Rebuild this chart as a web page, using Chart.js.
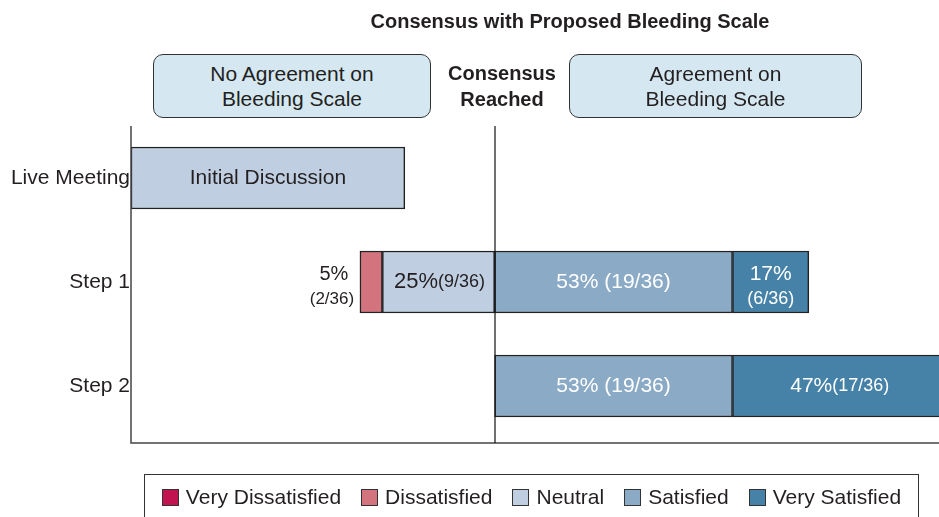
<!DOCTYPE html>
<html>
<head>
<meta charset="utf-8">
<script src="https://cdn.jsdelivr.net/npm/chart.js@4.4.1/dist/chart.umd.min.js"></script>
<style>
    html, body { margin: 0; padding: 0; background: #fff; }
    body { width: 939px; height: 517px; position: relative; overflow: hidden; font-family: "Liberation Sans", Arial, sans-serif; color: #231f20; }
    #chartWrap { position: absolute; left: 0; top: 0; width: 939px; height: 517px; }
    .title { position: absolute; left: 270px; width: 600px; top: 8px; line-height: 26px; text-align: center; font-weight: bold; font-size: 20px; }
    .box { position: absolute; top: 54px; height: 64px; border: 1.5px solid #333; border-radius: 10px; background: #d5e8f2; text-align: center; font-size: 21px; line-height: 25px; box-sizing: border-box; padding-top: 6px; }
    .reached { position: absolute; left: 440px; width: 124px; top: 60px; text-align: center; font-weight: bold; font-size: 20px; line-height: 26px; }
    .legend { position: absolute; left: 144px; top: 474px; width: 775px; height: 48px; border: 1.5px solid #333; box-sizing: border-box; display: flex; justify-content: center; align-items: center; font-size: 21px; padding-bottom: 2px; }
    .legend span.item { display: flex; align-items: center; margin: 0 10px; }
    .legend span.sw { width: 17px; height: 17px; border: 1.5px solid #333; margin-right: 7px; box-sizing: border-box; }
</style>
</head>
<body>
<div id="chartWrap"><canvas id="chart"></canvas></div>
<div class="title">Consensus with Proposed Bleeding Scale</div>
<div class="box" style="left:153px; width:278px;">No Agreement on<br>Bleeding Scale</div>
<div class="reached">Consensus<br>Reached</div>
<div class="box" style="left:569px; width:293px;">Agreement on<br>Bleeding Scale</div>
<div class="legend" id="legend"></div>
<script>
const categories = ['Live Meeting', 'Step 1', 'Step 2'];
const seriesNames = ['Very Dissatisfied', 'Dissatisfied', 'Neutral', 'Satisfied', 'Very Satisfied'];
const seriesColors = ['#c0134f', '#d3737e', '#bfcfe1', '#8aaac6', '#4682a8'];

// percent of respondents per step
const veryDissatisfied = [0, 0, 0];
const dissatisfied = [0, 5, 0];
const neutral = [0, 25, 0];
const satisfied = [0, 53, 53];
const verySatisfied = [0, 17, 47];

// respondents (out of 36)
const total = 36;
const dissatisfiedCount = [0, 2, 0];
const neutralCount = [0, 9, 0];
const satisfiedCount = [0, 19, 19];
const verySatisfiedCount = [0, 6, 17];

// live meeting bar (no scale yet)
const initialDiscussion = [[-81, -20], null, null];
const initialLabel = 'Initial Discussion';

const xMin = -81;
const xMax = 99;

function range(a, b, v) {
    return v ? [a, b] : null;
}

const neutralBars = neutral.map(v => range(-v, 0, v));
const dissatisfiedBars = dissatisfied.map((v, i) => range(-(neutral[i] + v), -neutral[i], v));
const veryDissatisfiedBars = veryDissatisfied.map((v, i) => range(-(neutral[i] + dissatisfied[i] + v), -(neutral[i] + dissatisfied[i]), v));
const satisfiedBars = satisfied.map(v => range(0, v, v));
const verySatisfiedBars = verySatisfied.map((v, i) => range(satisfied[i], satisfied[i] + v, v));

function makeSet(label, data, color) {
    return {
        label: label,
        data: data,
        backgroundColor: color,
        borderColor: '#222',
        borderWidth: 1.5,
        borderSkipped: false,
        barThickness: 62,
        grouped: false
    };
}

const datasets = [
    makeSet(initialLabel, initialDiscussion, '#bfcfe1'),
    makeSet('Very Dissatisfied', veryDissatisfiedBars, seriesColors[0]),
    makeSet('Dissatisfied', dissatisfiedBars, seriesColors[1]),
    makeSet('Neutral', neutralBars, seriesColors[2]),
    makeSet('Satisfied', satisfiedBars, seriesColors[3]),
    makeSet('Very Satisfied', verySatisfiedBars, seriesColors[4])
];

// legend
const legendEl = document.getElementById('legend');
seriesNames.forEach((name, i) => {
    const item = document.createElement('span');
    item.className = 'item';
    item.innerHTML = '<span class="sw" style="background:' + seriesColors[i] + '"></span>' + name;
    legendEl.appendChild(item);
});

const FONT = '"Liberation Sans", Arial, sans-serif';

function drawParts(ctx, parts, cx, cy) {
    // parts: [[text, size], ...] on one line, centered at cx
    let w = 0;
    parts.forEach(p => { ctx.font = p[1] + 'px ' + FONT; w += ctx.measureText(p[0]).width; });
    let x = cx - w / 2;
    parts.forEach(p => {
        ctx.font = p[1] + 'px ' + FONT;
        ctx.fillText(p[0], x, cy);
        x += ctx.measureText(p[0]).width;
    });
}

const overlay = {
    id: 'overlay',
    afterDatasetsDraw(chart) {
        const ctx = chart.ctx;
        const area = chart.chartArea;
        const xs = chart.scales.x;
        ctx.save();
        // axis lines
        ctx.strokeStyle = '#444';
        ctx.lineWidth = 1.5;
        ctx.beginPath();
        ctx.moveTo(area.left, area.top);
        ctx.lineTo(area.left, area.bottom + 5);
        ctx.lineTo(area.right, area.bottom + 5);
        ctx.stroke();
        const zx = Math.round(xs.getPixelForValue(0));
        ctx.strokeStyle = '#111';
        ctx.lineWidth = 1.2;
        ctx.beginPath();
        ctx.moveTo(zx, area.top);
        ctx.lineTo(zx, area.bottom + 5);
        ctx.stroke();

        ctx.textBaseline = 'middle';
        ctx.textAlign = 'left';
        const dark = '#231f20';
        const meta = i => chart.getDatasetMeta(i).data;

        // Initial Discussion
        const ib = meta(0)[0];
        ctx.fillStyle = dark;
        drawParts(ctx, [[initialLabel, 21]], (ib.x + ib.base) / 2, ib.y);

        categories.forEach((c, j) => {
            // dissatisfied: outside, two lines
            const db = meta(2)[j];
            if (dissatisfied[j]) {
                const left = Math.min(db.x, db.base);
                ctx.fillStyle = dark;
                drawParts(ctx, [[dissatisfied[j] + '%', 20]], left - 26, db.y - 8);
                drawParts(ctx, [['(' + dissatisfiedCount[j] + '/' + total + ')', 17]], left - 28, db.y + 17);
            }
            const nb = meta(3)[j];
            if (neutral[j]) {
                ctx.fillStyle = dark;
                drawParts(ctx, [[neutral[j] + '%', 22], ['(' + neutralCount[j] + '/' + total + ')', 18]], (nb.x + nb.base) / 2 + 1, nb.y);
            }
            const sb = meta(4)[j];
            if (satisfied[j]) {
                ctx.fillStyle = '#fff';
                drawParts(ctx, [[satisfied[j] + '% (' + satisfiedCount[j] + '/' + total + ')', 21]], (sb.x + sb.base) / 2, sb.y);
            }
            const vb = meta(5)[j];
            if (verySatisfied[j]) {
                ctx.fillStyle = '#fff';
                const cx = (Math.min(vb.x, area.right) + vb.base) / 2;
                const pct = verySatisfied[j] + '%';
                const cnt = '(' + verySatisfiedCount[j] + '/' + total + ')';
                if (vb.x - vb.base < 100) {
                    drawParts(ctx, [[pct, 21]], cx, vb.y - 8);
                    drawParts(ctx, [[cnt, 18]], cx, vb.y + 17);
                } else {
                    drawParts(ctx, [[pct, 21], [cnt, 18]], cx + 4, vb.y);
                }
            }
        });
        ctx.restore();
    }
};

new Chart(document.getElementById('chart'), {
    type: 'bar',
    data: {
        labels: categories,
        datasets: datasets
    },
    options: {
        indexAxis: 'y',
        responsive: true,
        maintainAspectRatio: false,
        animation: false,
        layout: {
            padding: { top: 126, bottom: 79, left: 0, right: 0 }
        },
        plugins: {
            legend: { display: false },
            tooltip: { enabled: false },
            title: { display: false }
        },
        scales: {
            x: {
                min: xMin,
                max: xMax,
                display: true,
                grid: { display: false, drawTicks: false },
                border: { display: false },
                ticks: { display: false }
            },
            y: {
                grid: { display: false, drawTicks: false },
                border: { display: false },
                ticks: {
                    color: '#231f20',
                    padding: 1,
                    font: { family: FONT, size: 21 }
                },
                afterFit(scale) {
                    scale.width = 131;
                }
            }
        }
    },
    plugins: [overlay]
});
</script>
</body>
</html>
